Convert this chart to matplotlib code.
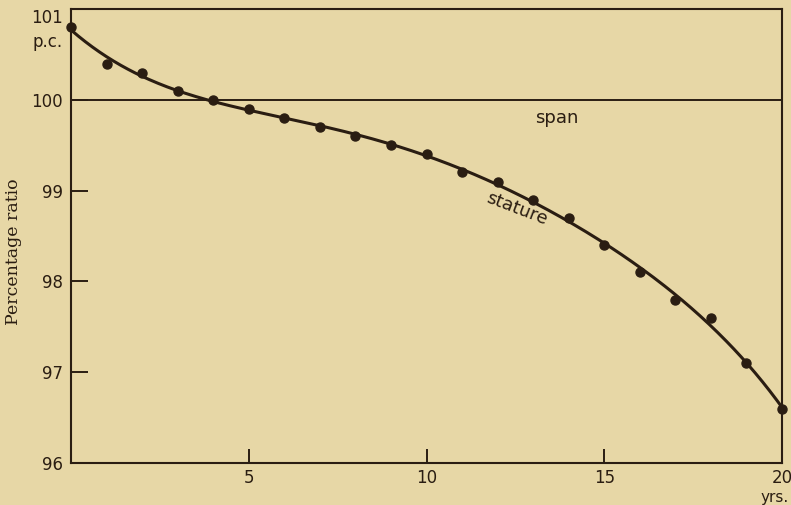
import numpy as np
import matplotlib
matplotlib.use("Agg")
import matplotlib.pyplot as plt
from matplotlib.transforms import blended_transform_factory

# Ratio of stature to span, per cent, by age in years
ages = [0, 1, 2, 3, 4, 5, 6, 7, 8, 9, 10, 11, 12, 13, 14, 15, 16, 17, 18, 19, 20]
stature = [100.8, 100.4, 100.3, 100.1, 100.0, 99.9, 99.8, 99.7, 99.6, 99.5, 99.4,
           99.2, 99.1, 98.9, 98.7, 98.4, 98.1, 97.8, 97.6, 97.1, 96.6]
span_level = 100
xticks = [5, 10, 15, 20]
xtick_labels = ["5", "10", "15", "20"]
yticks = [96, 97, 98, 99, 100, 101]
ytick_labels = ["96", "97", "98", "99", "100", "101"]

paper = "#E7D7A6"
ink = "#2A1D12"

fig = plt.figure(figsize=(7.91, 5.05), dpi=100, facecolor=paper)
ax = fig.add_axes([0.0898, 0.0832, 0.8988, 0.8988])
ax.set_facecolor(paper)

ax.set_xlim(0, 20)
ax.set_ylim(96, 101)

# smoothed stature curve fitted through the observations
coef = np.polyfit(ages, stature, 6)
xs = np.linspace(0, 20, 400)
ax.plot(xs, np.polyval(coef, xs), color=ink, lw=2.2, solid_capstyle="round", zorder=3)
ax.plot(ages, stature, "o", color=ink, ms=6.5, zorder=4, clip_on=False)

# span reference line
ax.axhline(span_level, color=ink, lw=1.4, zorder=2)

for s in ax.spines.values():
    s.set_color(ink)
    s.set_linewidth(1.5)

ax.set_xticks(xticks)
ax.set_xticklabels(xtick_labels)
ax.set_yticks(yticks)
ax.set_yticklabels(ytick_labels)
ax.tick_params(axis="both", direction="in", color=ink, labelcolor=ink,
               width=1.4, labelsize=12)
ax.tick_params(axis="y", length=12, pad=6)
ax.tick_params(axis="x", length=10, pad=4)
# top label sits just under the frame line
ax.get_yticklabels()[-1].set_verticalalignment("top")

fig.text(14 / 791, 1 - 252 / 505, "Percentage ratio", family="DejaVu Serif",
         fontsize=12.5, color=ink, rotation=90, ha="center", va="center")

# unit labels
ytr = blended_transform_factory(ax.transAxes, ax.transData)
ax.text(-0.012, 100.64, "p.c.", transform=ytr, ha="right", va="center",
        fontsize=12, color=ink)
ax.annotate("yrs.", xy=(20, 96), xycoords="data", xytext=(5, -25),
            textcoords="offset points", ha="right", va="center",
            fontsize=11, color=ink, annotation_clip=False)

ax.text(13.67, 99.8, "span", ha="center", va="center", fontsize=13, color=ink)
ax.text(12.55, 98.8, "stature", ha="center", va="center", fontsize=13,
        color=ink, rotation=-21, rotation_mode="anchor")

fig.savefig("out.png", dpi=100, facecolor=paper)
